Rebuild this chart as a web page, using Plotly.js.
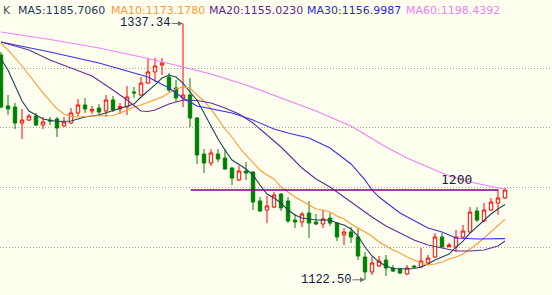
<!DOCTYPE html>
<html>
<head>
<meta charset="utf-8">
<script src="https://cdn.plot.ly/plotly-3.0.1.min.js"></script>
<style>html,body{margin:0;padding:0;background:#fffff0;}#chart{width:552px;height:295px;}</style>
</head>
<body>
<div id="chart"></div>
<script>
// ---- candle data (index 0..72) ----
const candleIdx = Array.from({length: 73}, (_, i) => i);
const openV = [1310.9,1268.2,1267.3,1253.9,1256.4,1259.8,1252.3,1256.4,1257.3,1251.4,
  1253.9,1262.3,1269.0,1264.0,1266.5,1264.0,1273.2,1265.7,1267.3,1279.9,
  1277.4,1287.4,1296.7,1302.5,1292.5,1283.3,1274.9,1277.4,1258.1,1227.9,
  1220.4,1227.9,1224.6,1216.2,1206.2,1213.7,1212.9,1188.6,1181.0,1183.5,
  1194.4,1188.6,1172.6,1171.0,1178.5,1171.0,1169.3,1174.3,1170.1,1160.1,
  1162.6,1158.4,1141.6,1129.1,1134.1,1139.1,1132.4,1131.6,1127.4,1134.1,
  1133.3,1136.6,1141.6,1158.4,1150.4,1150.0,1158.4,1162.6,1180.2,1171.8,
  1181.0,1186.9,1191.1];
const highV = [1313.4,1277.4,1270.7,1265.7,1261.5,1262.3,1259.0,1259.0,1259.0,1259.0,
  1266.5,1274.0,1274.9,1268.2,1269.8,1277.4,1276.6,1270.7,1284.9,1284.1,
  1292.5,1308.4,1308.4,1308.4,1295.8,1290.0,1337.34,1291.6,1259.0,1232.1,
  1232.1,1232.1,1232.1,1217.1,1217.9,1221.2,1213.5,1191.9,1192.8,1196.1,
  1195.3,1191.9,1177.7,1179.3,1188.6,1177.7,1181.0,1178.5,1171.0,1165.9,
  1166.8,1165.9,1145.8,1141.6,1142.5,1143.3,1134.9,1132.4,1134.9,1134.9,
  1149.2,1143.3,1161.7,1161.7,1153.4,1164.3,1168.5,1183.5,1183.5,1186.9,
  1191.1,1198.6,1199.5];
const lowV = [1266.5,1260.6,1248.9,1240.5,1255.6,1251.4,1248.9,1252.3,1242.2,1250.6,
  1253.0,1259.8,1262.3,1261.5,1260.6,1259.0,1263.1,1261.5,1260.6,1274.9,
  1276.6,1286.6,1288.3,1294.2,1279.9,1271.5,1267.3,1250.6,1219.6,1212.0,
  1217.9,1221.2,1214.5,1202.0,1205.3,1206.2,1181.0,1179.3,1170.1,1182.7,
  1180.2,1170.1,1165.9,1166.8,1157.6,1168.5,1165.9,1167.6,1155.0,1151.7,
  1153.4,1139.1,1122.5,1126.5,1133.3,1125.7,1129.1,1127.4,1126.5,1132.4,
  1132.4,1134.9,1140.8,1149.2,1149.6,1145.8,1157.6,1161.7,1171.0,1171.0,
  1180.2,1176.8,1190.2];
const closeV = [1267.3,1265.7,1253.9,1256.4,1259.8,1252.3,1254.8,1255.6,1249.7,1254.8,
  1262.3,1269.0,1265.7,1265.2,1263.1,1273.2,1264.8,1267.8,1275.7,1279.1,
  1287.4,1296.7,1301.7,1304.2,1281.6,1274.9,1277.4,1258.1,1227.1,1220.4,
  1228.8,1223.8,1215.4,1207.8,1213.7,1212.0,1187.7,1180.2,1184.4,1193.6,
  1182.7,1171.8,1171.0,1177.7,1170.1,1169.3,1173.5,1170.1,1158.4,1162.6,
  1158.4,1142.5,1129.1,1136.6,1138.3,1132.4,1129.9,1128.2,1132.4,1133.3,
  1138.3,1140.8,1158.4,1150.0,1151.7,1158.4,1163.4,1179.3,1172.6,1181.0,
  1187.7,1191.1,1197.8];

// ---- moving average lines ----
const ma5X = [0,1,3,4,6,8,10,12,14,17,19,20,21,22,23,24,25,26,27,28,30,31,32,33,35,36,37,38,39,40,41,42,43,45,47,48,49,50,51,52,53,54,55,56,58,59,60,61,62,63,64,65,66,67,68,69,70,71,72];
const ma5V = [1307.6,1298.3,1272.4,1264.0,1257.3,1255.2,1255.6,1259.0,1260.6,1266.5,
  1269.8,1275.7,1280.7,1285.8,1291.6,1294.1,1292.5,1287.4,1279.9,1273.2,
  1251.4,1240.5,1231.3,1222.9,1215.4,1210.3,1202.0,1194.4,1191.1,1186.9,
  1181.0,1176.8,1174.3,1172.6,1172.6,1170.1,1168.4,1165.1,1159.2,1150.0,
  1142.5,1137.4,1134.1,1132.0,1131.6,1132.0,1133.3,1135.8,1139.1,1141.6,
  1144.1,1150.0,1155.0,1161.7,1166.8,1171.8,1177.7,1181.9,1185.7];
const ma10X = [0,1,3,4,6,8,9,10,11,13,15,16,17,18,19,20,22,23,24,25,
  26,27,28,29,30,31,32,33,34,35,36,37,38,39,40,41,42,43,44,45,46,47,48,49,50,
  51,52,53,54,55,56,57,58,59,60,61,62,63,64,65,66,67,68,69,70,71,72];
const ma10V = [1321.0,1315.1,1301.7,1294.1,1279.1,1265.7,1261.5,1259.4,1259.0,1259.8,
  1259.8,1260.2,1262.3,1264.8,1267.3,1269.0,1273.2,1275.7,1279.1,1282.4,
  1284.1,1283.3,1277.4,1272.4,1265.7,1257.3,1248.9,1242.2,1233.8,1227.1,
  1220.4,1214.5,1210.3,1207.0,1200.3,1196.1,1191.9,1188.6,1185.2,1181.9,
  1181.0,1179.3,1176.0,1173.5,1169.3,1165.9,1162.6,1159.2,1154.2,1150.9,
  1147.5,1145.0,1141.6,1139.1,1136.6,1134.9,1135.8,1137.4,1140.0,1141.6,
  1144.1,1148.3,1152.5,1157.6,1162.6,1168.4,1173.2];
const ma20X = [0,4,7,10,13,16,18,20,21,22,24,26,28,30,32,34,36,37,38,40,42,43,45,47,49,51,53,55,57,59,61,63,65,67,69,71,72];
const ma20V = [1321.8,1315.1,1306.7,1300.0,1293.3,1281.6,1273.2,1264.0,1263.6,1264.8,
  1269.8,1273.2,1272.8,1270.7,1266.5,1261.5,1253.9,1248.9,1243.9,1233.8,
  1222.1,1216.2,1207.0,1200.3,1191.9,1183.5,1175.2,1167.6,1161.7,1155.9,
  1151.7,1149.2,1146.7,1146.7,1147.5,1150.9,1155.0];
const ma30X = [0,7,14,21,24,26,28,30,33,36,39,41,44,47,50,52,53,54,57,61,63,65,68,72];
const ma30V = [1321.8,1313.4,1304.2,1292.5,1283.3,1274.9,1268.2,1265.7,1262.3,1256.4,
  1248.9,1245.5,1241.4,1233.0,1219.6,1206.2,1197.8,1191.9,1178.5,1165.9,
  1162.6,1157.6,1156.7,1157.0];
const ma60X = [0,7,14,21,26,30,35,40,45,50,55,58,61,64,67,70,72];
const ma60V = [1330.2,1323.9,1316.8,1308.0,1300.9,1295.0,1285.8,1274.9,1264.0,1251.4,
  1233.8,1224.6,1217.1,1209.5,1204.5,1201.1,1198.4];

// ---- labels ----
const legendLabels = ["K", "MA5:1185.7060", "MA10:1173.1780", "MA20:1155.0230", "MA30:1156.9987", "MA60:1198.4392"];
const highLabel = "1337.34";
const highIdx = 26, highVal = 1337.34;
const lowLabel = "1122.50";
const lowIdx = 52, lowVal = 1122.5;
const levelLabel = "1200";
const levelVal = 1197.8, levelFrom = 27.1, levelTo = 71;
const gridVals = [1150, 1200, 1250, 1300];

const BG = '#fffff0';
const maColors = ['#21405f', '#ff9933', '#662d91', '#3333ee', '#f080f0'];
const legendColors = ['#505050', '#1c3a5c', '#ff9933', '#5e2690', '#2a2ad8', '#f080f0'];
const legendX = [2, 17, 110, 208, 306, 405];

const traces = [{
  type: 'candlestick',
  x: candleIdx, open: openV, high: highV, low: lowV, close: closeV,
  increasing: {line: {color: '#ff0000', width: 1}, fillcolor: BG},
  decreasing: {line: {color: '#008000', width: 1}, fillcolor: '#008000'},
  whiskerwidth: 0, hoverinfo: 'skip', showlegend: false
}];
const maX = [ma5X, ma10X, ma20X, ma30X, ma60X];
const maV = [ma5V, ma10V, ma20V, ma30V, ma60V];
for (let k = 0; k < 5; k++) {
  traces.push({type: 'scatter', mode: 'lines', x: maX[k], y: maV[k],
    line: {color: maColors[k], width: 1.1}, hoverinfo: 'skip', showlegend: false});
}

const annotations = legendLabels.map((t, k) => ({
  xref: 'paper', yref: 'paper', x: legendX[k] / 552, y: 1 - 10 / 295,
  xanchor: 'left', yanchor: 'middle', text: t, showarrow: false,
  font: {family: 'DejaVu Sans', size: 11, color: legendColors[k]}, borderpad: 0
}));
annotations.push({x: highIdx, y: highVal, text: highLabel, showarrow: true,
  ax: -38, ay: 0, arrowhead: 2, arrowsize: 1, arrowwidth: 1, arrowcolor: '#707070', standoff: 0,
  font: {family: 'Liberation Mono', size: 12, color: '#0a2040'}});
annotations.push({x: lowIdx, y: lowVal, text: lowLabel, showarrow: true,
  ax: -39, ay: 0, arrowhead: 2, arrowsize: 1, arrowwidth: 1, arrowcolor: '#707070', standoff: 0,
  font: {family: 'Liberation Mono', size: 12, color: '#0a2040'}});
annotations.push({x: 65, y: levelVal, yshift: 10, text: levelLabel, showarrow: false,
  xanchor: 'center', yanchor: 'middle',
  font: {family: 'DejaVu Sans Mono', size: 13, color: '#1a1a3a'}});

const layout = {
  width: 552, height: 295,
  margin: {l: 0, r: 0, t: 0, b: 0, pad: 0},
  paper_bgcolor: BG, plot_bgcolor: BG,
  showlegend: false,
  xaxis: {range: [-1 / 7, 551 / 7], showgrid: false, zeroline: false, showticklabels: false,
    showline: false, ticks: '', rangeslider: {visible: false}, fixedrange: true},
  yaxis: {range: [1109.8, 1357.0], tickvals: gridVals, showgrid: true, gridcolor: '#a8a8a8',
    gridwidth: 1, griddash: '1px,2px', zeroline: false, showticklabels: false, showline: false,
    ticks: '', fixedrange: true},
  shapes: [{type: 'line', xref: 'x', yref: 'y', x0: levelFrom, x1: levelTo, y0: levelVal, y1: levelVal,
    line: {color: '#800080', width: 1.6}, layer: 'above'}],
  annotations: annotations
};
Plotly.newPlot('chart', traces, layout, {staticPlot: true, displayModeBar: false});
</script>
</body>
</html>
